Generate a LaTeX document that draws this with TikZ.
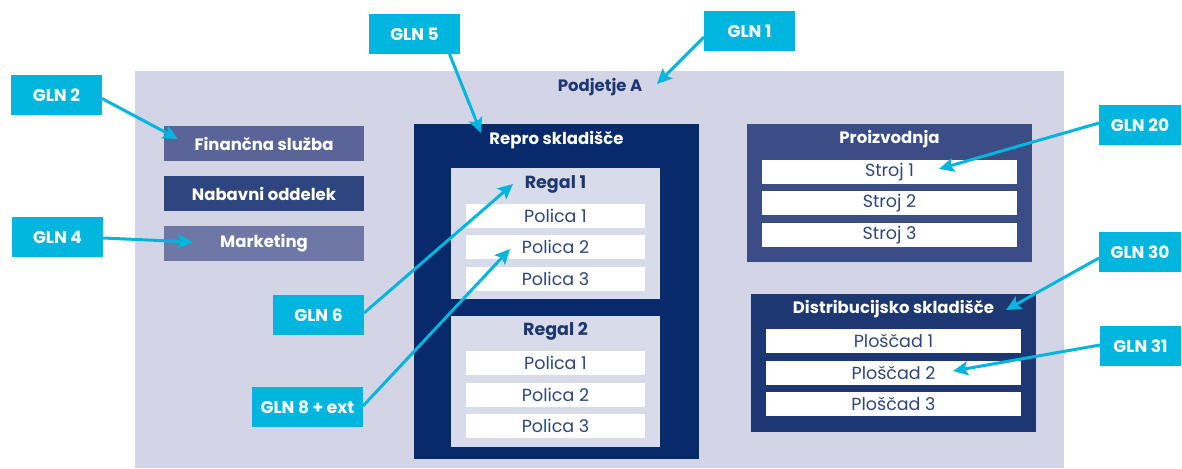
\documentclass[tikz,border=0pt]{standalone}
\usepackage{fontspec}
\setmainfont{Poppins}
\usetikzlibrary{arrows.meta,calc}
\definecolor{bgc}{HTML}{D3D5E6}
\definecolor{regc}{HTML}{D8DBE9}
\definecolor{repro}{HTML}{062A6B}
\definecolor{proiz}{HTML}{3A4D85}
\definecolor{distr}{HTML}{1D3773}
\definecolor{finc}{HTML}{5A6499}
\definecolor{nabc}{HTML}{2E4580}
\definecolor{mktc}{HTML}{6E77A6}
\definecolor{cyanc}{HTML}{00B5DE}
\definecolor{navytxt}{HTML}{1D3773}
\definecolor{rowtxt}{HTML}{2E4580}
\tikzset{
  area/.style={anchor=north west, inner sep=0pt, outer sep=0pt},
  dept/.style={area, font=\bfseries\fontsize{16.5}{18}\selectfont, text=white, minimum width=200pt, minimum height=35pt},
  title/.style={font=\bfseries\fontsize{16.5}{18}\selectfont, text=white, inner sep=0pt},
  regtitle/.style={font=\bfseries\fontsize{17.5}{19}\selectfont, text=navytxt, inner sep=0pt},
  row/.style={area, fill=white, font=\fontsize{17.5}{19}\selectfont, text=rowtxt},
  gln/.style={area, fill=cyanc, font=\bfseries\fontsize{17}{19}\selectfont, text=white, minimum height=40pt},
  arr/.style={draw=cyanc, line width=3pt, -{Stealth[length=15pt,width=14pt,inset=3pt]}},
}
\begin{document}
\begin{tikzpicture}[x=1pt,y=-1pt]
\path[use as bounding box, fill=white] (0,0) rectangle (1182,468);
% background area
\path[fill=bgc] (135,71) rectangle (1064,468);
\node[font=\bfseries\fontsize{16.5}{18}\selectfont, text=navytxt, inner sep=0pt] (podj) at (600,87) {Podjetje A};
% departments
\node[dept, fill=finc] (fin) at (164,126) {Finančna služba};
\node[dept, fill=nabc] (nab) at (164,176) {Nabavni oddelek};
\node[dept, fill=mktc] (mkt) at (164,226) {Marketing};
% Repro
\node[area, fill=repro, minimum width=285pt, minimum height=335pt] (repro) at (414,124) {};
\node[title] (reprot) at (556.5,140) {Repro skladišče};
\node[area, fill=regc, minimum width=209pt, minimum height=131pt] (reg1) at (451,168) {};
\node[regtitle] (reg1t) at (555.5,184) {Regal 1};
\node[row, minimum width=179pt, minimum height=24pt] (p11) at (466,204) {Polica 1};
\node[row, minimum width=179pt, minimum height=24pt] (p12) at (466,235) {Polica 2};
\node[row, minimum width=179pt, minimum height=24pt] (p13) at (466,267) {Polica 3};
\node[area, fill=regc, minimum width=209pt, minimum height=131pt] (reg2) at (451,316) {};
\node[regtitle] (reg2t) at (555.5,331) {Regal 2};
\node[row, minimum width=179pt, minimum height=24pt] (p21) at (466,351) {Polica 1};
\node[row, minimum width=179pt, minimum height=24pt] (p22) at (466,383) {Polica 2};
\node[row, minimum width=179pt, minimum height=24pt] (p23) at (466,414) {Polica 3};
% Proizvodnja
\node[area, fill=proiz, minimum width=285pt, minimum height=138pt] (proiz) at (747,124) {};
\node[title] (proizt) at (889.5,139) {Proizvodnja};
\node[row, minimum width=255pt, minimum height=24pt] (s1) at (762,160) {Stroj 1};
\node[row, minimum width=255pt, minimum height=24pt] (s2) at (762,191) {Stroj 2};
\node[row, minimum width=255pt, minimum height=24pt] (s3) at (762,223) {Stroj 3};
% Distribucijsko
\node[area, fill=distr, minimum width=285pt, minimum height=138pt] (distr) at (751,294) {};
\node[title] (distrt) at (893.5,309) {Distribucijsko skladišče};
\node[row, minimum width=255pt, minimum height=24pt] (d1) at (766,329) {Ploščad 1};
\node[row, minimum width=255pt, minimum height=24pt] (d2) at (766,361) {Ploščad 2};
\node[row, minimum width=255pt, minimum height=24pt] (d3) at (766,392) {Ploščad 3};
% GLN labels
\node[gln, minimum width=91pt] (g1) at (704,11) {GLN 1};
\node[gln, minimum width=91pt] (g5) at (369,14) {GLN 5};
\node[gln, minimum width=91pt] (g2) at (11,75) {GLN 2};
\node[gln, minimum width=91pt] (g4) at (12,217) {GLN 4};
\node[gln, minimum width=91pt] (g6) at (273,295) {GLN 6};
\node[gln, minimum width=111pt] (g8) at (252,387) {GLN 8 + ext};
\node[gln, minimum width=82pt] (g20) at (1099,105) {GLN 20};
\node[gln, minimum width=82pt] (g30) at (1099,232) {GLN 30};
\node[gln, minimum width=81pt] (g31) at (1100,326) {GLN 31};
% arrow tips
\coordinate (t1) at (657,84);
\coordinate (t5) at (481,133);
\coordinate (t2) at (178,139);
\coordinate (t4) at (193,242);
\coordinate (t6) at (513,184);
\coordinate (t8) at (510,249);
\coordinate (t20) at (939,169);
\coordinate (t30) at (1006,310);
\coordinate (t31) at (953,371);
% arrows
\draw[arr] ($(g1.west)+(0,6)$) -- (t1);
\draw[arr] ($(g5.south)+(35,0)$) -- (t5);
\draw[arr] ($(g2.east)+(0,3.5)$) -- (t2);
\draw[arr] ($(g4.east)+(0,1)$) -- (t4);
\draw[arr] ($(g6.east)+(0,-2)$) -- (t6);
\draw[arr] ($(g8.east)+(0,-1)$) -- (t8);
\draw[arr] ($(g20.west)+(0,-2)$) -- (t20);
\draw[arr] ($(g30.west)+(0,6)$) -- (t30);
\draw[arr] ($(g31.west)+(0,-1)$) -- (t31);
\end{tikzpicture}
\end{document}
